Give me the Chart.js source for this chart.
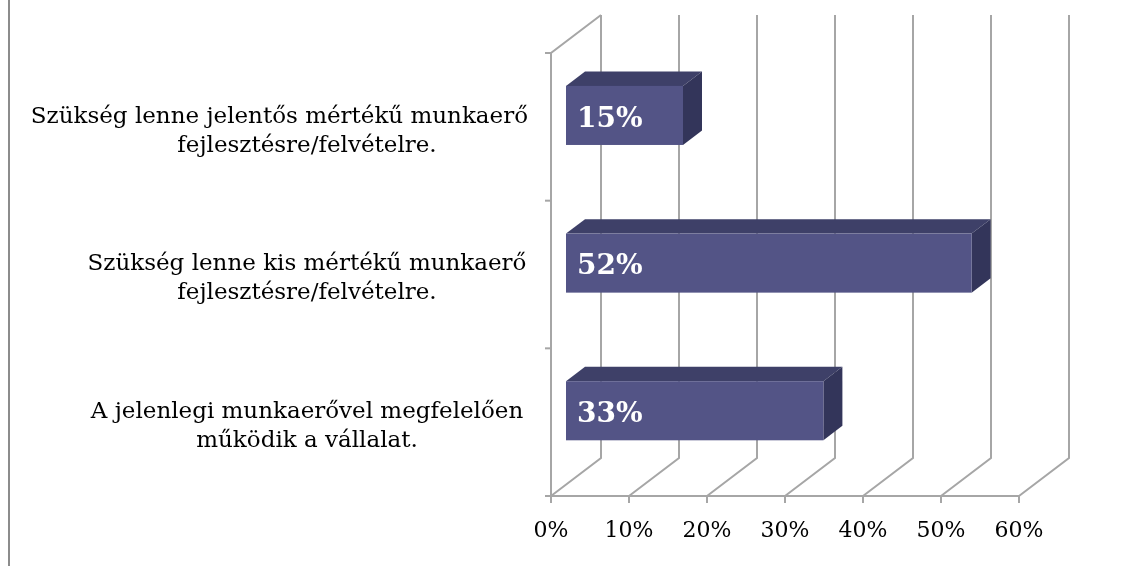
<!DOCTYPE html>
<html>
<head>
<meta charset="utf-8">
<script src="https://cdn.jsdelivr.net/npm/chart.js@4.4.0/dist/chart.umd.min.js"></script>
<style>
  html, body { margin: 0; padding: 0; background: #ffffff; }
  canvas { display: block; }
</style>
</head>
<body>
<canvas id="c" width="1124" height="566"></canvas>
<script>
// ---- data ----
const categories = [
  ["Szükség lenne jelentős mértékű munkaerő", "fejlesztésre/felvételre."],
  ["Szükség lenne kis mértékű munkaerő", "fejlesztésre/felvételre."],
  ["A jelenlegi munkaerővel megfelelően", "működik a vállalat."]
];
const values = [15, 52, 33];
const axisMin = 0;
const axisMax = 60;
const axisStep = 10;

// ---- style ----
const SERIF = "'DejaVu Serif', 'Liberation Serif', serif";
const GRID = '#a6a6a6';
const FRONT = '#535486';
const TOP = '#3e4068';
const SIDE = '#33355a';
const DEPTH_X = 50, DEPTH_Y = -38;      // wall depth
const BAR_START = 0.3, BAR_END = 0.68;  // bar depth fraction

const threeD = {
  id: 'threeD',
  beforeDatasetsDraw(chart) {
    const ctx = chart.ctx;
    const xs = chart.scales.x, ys = chart.scales.y;
    const a = chart.chartArea;
    ctx.save();
    // outer frame line on the left
    ctx.strokeStyle = '#8c8c8c';
    ctx.lineWidth = 2;
    ctx.beginPath(); ctx.moveTo(9, 0); ctx.lineTo(9, 566); ctx.stroke();

    ctx.strokeStyle = GRID;
    ctx.lineWidth = 2;
    ctx.lineCap = 'butt';
    // back wall vertical gridlines + floor diagonals
    xs.ticks.forEach(t => {
      const x = xs.getPixelForValue(t.value);
      ctx.beginPath();
      ctx.moveTo(x + DEPTH_X, a.top + DEPTH_Y);
      ctx.lineTo(x + DEPTH_X, a.bottom + DEPTH_Y);
      ctx.lineTo(x, a.bottom);
      ctx.stroke();
    });
    // left wall: front edge and top edge
    const x0 = xs.getPixelForValue(axisMin);
    ctx.beginPath();
    ctx.moveTo(x0 + DEPTH_X, a.top + DEPTH_Y);
    ctx.lineTo(x0, a.top);
    ctx.lineTo(x0, a.bottom);
    ctx.stroke();
    // front floor edge
    ctx.beginPath();
    ctx.moveTo(x0 - 6, a.bottom);
    ctx.lineTo(xs.getPixelForValue(axisMax), a.bottom);
    ctx.stroke();
    // x tick marks
    xs.ticks.forEach(t => {
      const x = xs.getPixelForValue(t.value);
      ctx.beginPath(); ctx.moveTo(x, a.bottom); ctx.lineTo(x, a.bottom + 7); ctx.stroke();
    });
    // y tick marks at category boundaries
    const n = categories.length;
    for (let i = 0; i <= n; i++) {
      const y = a.top + (a.bottom - a.top) * i / n;
      ctx.beginPath(); ctx.moveTo(x0 - 6, y); ctx.lineTo(x0, y); ctx.stroke();
    }

    // category labels
    ctx.fillStyle = '#000000';
    ctx.font = '23px ' + SERIF;
    ctx.textAlign = 'center';
    ctx.textBaseline = 'middle';
    categories.forEach((lines, i) => {
      const cy = ys.getPixelForValue(i) + 4.5;
      const lh = 29;
      lines.forEach((ln, j) => {
        const w = ctx.measureText(ln).width;
        const cx = Math.min(307, 528 - w / 2);
        ctx.fillText(ln, cx, cy + (j - (lines.length - 1) / 2) * lh);
      });
    });
    ctx.restore();
  },
  afterDatasetsDraw(chart) {
    const ctx = chart.ctx;
    const meta = chart.getDatasetMeta(0);
    const ox = DEPTH_X * BAR_START, oy = DEPTH_Y * BAR_START;
    const dx = DEPTH_X * (BAR_END - BAR_START), dy = DEPTH_Y * (BAR_END - BAR_START);
    ctx.save();
    meta.data.forEach((el, i) => {
      const p = el.getProps(['x', 'y', 'base', 'height'], true);
      const xl = p.base + ox, xr = p.x + ox;
      const yt = p.y - p.height / 2 + oy, yb = p.y + p.height / 2 + oy;
      // top face
      ctx.fillStyle = TOP;
      ctx.beginPath();
      ctx.moveTo(xl, yt); ctx.lineTo(xr, yt); ctx.lineTo(xr + dx, yt + dy); ctx.lineTo(xl + dx, yt + dy);
      ctx.closePath(); ctx.fill();
      // side face
      ctx.fillStyle = SIDE;
      ctx.beginPath();
      ctx.moveTo(xr, yt); ctx.lineTo(xr + dx, yt + dy); ctx.lineTo(xr + dx, yb + dy); ctx.lineTo(xr, yb);
      ctx.closePath(); ctx.fill();
      // front face
      ctx.fillStyle = FRONT;
      ctx.fillRect(xl, yt, xr - xl, yb - yt);
      // value label
      ctx.fillStyle = '#ffffff';
      ctx.font = 'bold 28px ' + SERIF;
      ctx.textAlign = 'left';
      ctx.textBaseline = 'middle';
      ctx.fillText(values[i] + '%', xl + 11, (yt + yb) / 2 + 4);
    });
    ctx.restore();
  }
};

new Chart(document.getElementById('c'), {
  type: 'bar',
  data: {
    labels: categories,
    datasets: [{
      data: values,
      backgroundColor: 'rgba(0,0,0,0)',
      borderWidth: 0,
      barPercentage: 0.4,
      categoryPercentage: 1.0
    }]
  },
  options: {
    indexAxis: 'y',
    responsive: false,
    animation: false,
    devicePixelRatio: 1,
    layout: { padding: { left: 551, top: 53, right: 105, bottom: 0 } },
    plugins: { legend: { display: false }, tooltip: { enabled: false } },
    scales: {
      x: {
        min: axisMin, max: axisMax,
        grid: { display: false, drawTicks: false },
        border: { display: false },
        ticks: {
          stepSize: axisStep,
          color: '#000000',
          font: { family: SERIF, size: 22 },
          padding: 22,
          maxRotation: 0,
          callback: v => v + '%'
        },
        afterFit: s => { s.height = 70; }
      },
      y: { display: false }
    }
  },
  plugins: [threeD]
});
</script>
</body>
</html>
